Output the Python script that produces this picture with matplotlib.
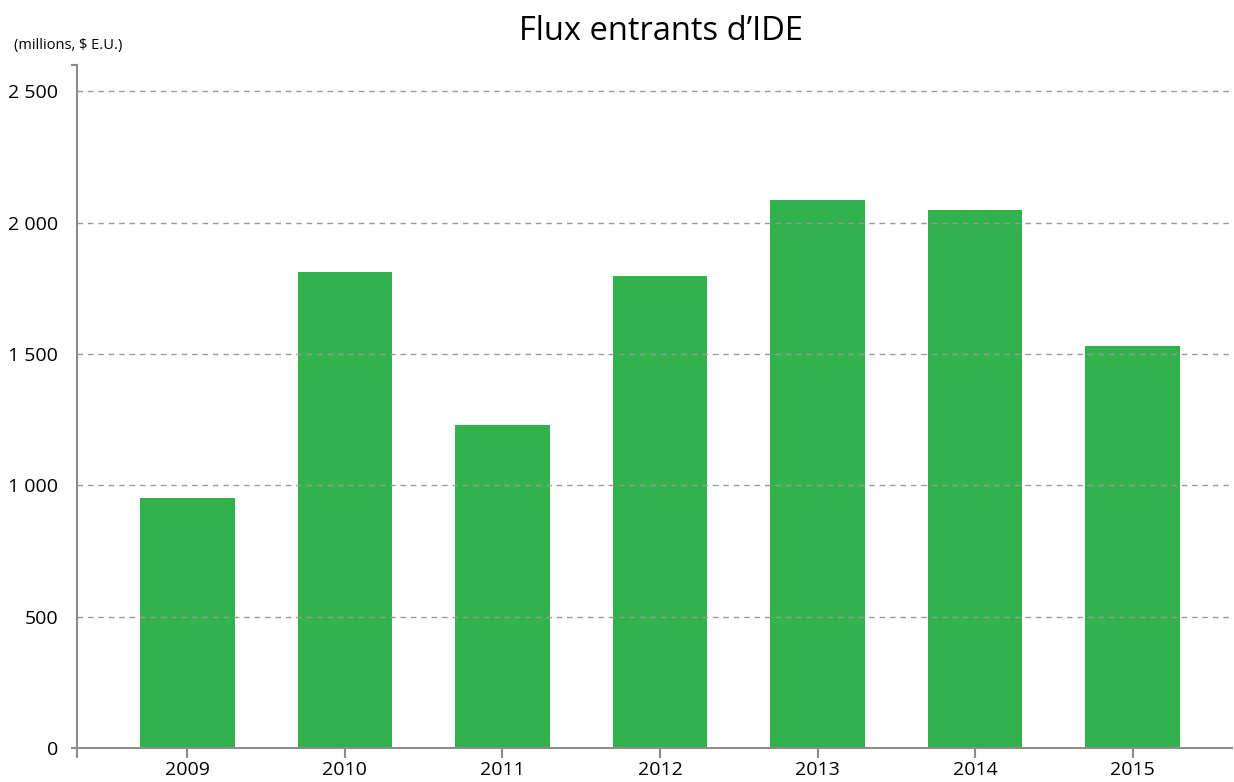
import matplotlib
matplotlib.use("Agg")
import matplotlib.pyplot as plt
from matplotlib.ticker import FuncFormatter

years = ["2009", "2010", "2011", "2012", "2013", "2014", "2015"]
values = [951, 1811, 1229, 1797, 2086, 2047, 1530]
yticks = [0, 500, 1000, 1500, 2000, 2500]

plt.rcParams['font.family'] = ['Open Sans', 'DejaVu Sans']

fig = plt.figure(figsize=(12.34, 7.82), dpi=100)
L, R, B, T = 77 / 1234, 1232 / 1234, 1 - 748 / 782, 1 - 65 / 782
ax = fig.add_axes([L, B, R - L, T - B])

x = list(range(len(years)))
ax.bar(x, values, width=0.6, color="#31B24C", zorder=1)

ax.set_ylim(0, 2600)
ax.set_xlim(-0.7, 6.63)
ax.set_yticks(yticks)
ax.yaxis.set_major_formatter(FuncFormatter(lambda v, p: f"{int(v):,}".replace(",", " ")))
ax.set_xticks(x)
ax.set_xticklabels(years)

for v in yticks[1:]:
    ax.axhline(v, color="#999999", lw=1.0, ls=(0, (4, 3.5)), zorder=2)

for s in ["top", "right", "bottom", "left"]:
    ax.spines[s].set_visible(False)

gray = "#8c8c8c"
ax.plot([0, 0], [-0.013, 1.0], transform=ax.transAxes, color=gray, lw=1.5, clip_on=False, zorder=3)
ax.plot([-0.0045, 0], [1.0, 1.0], transform=ax.transAxes, color=gray, lw=1.5, clip_on=False, zorder=3)
ax.plot([-0.0045, 1.0], [0, 0], transform=ax.transAxes, color=gray, lw=1.5, clip_on=False, zorder=3)

ax.tick_params(axis="y", length=0, pad=13.5, labelsize=14, labelcolor="#000000")
ax.tick_params(axis="x", length=7, width=1.5, color=gray, direction="out", pad=2.5, labelsize=14, labelcolor="#000000")

fig.text(0.5355, 0.96, "Flux entrants d\u2019IDE", ha="center", va="center", fontsize=23.5, color="#000000")
fig.text(0.011, 0.942, "(millions, $ E.U.)", ha="left", va="center", fontsize=10.5, color="#000000")

fig.savefig("out.png", dpi=100)
